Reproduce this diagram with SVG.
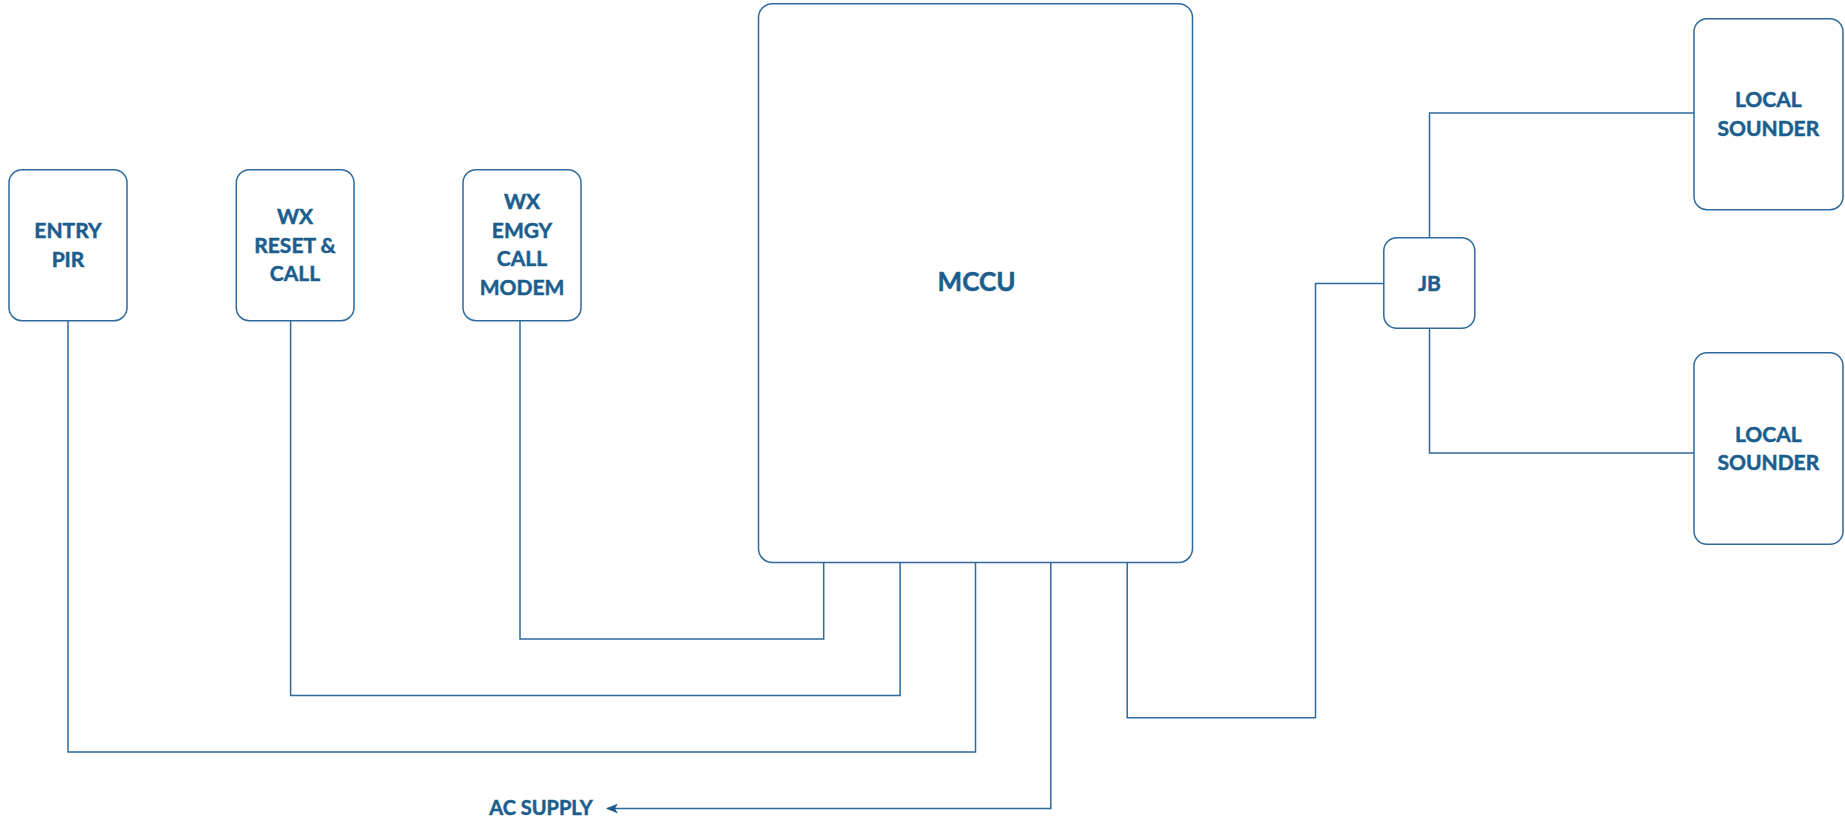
<svg xmlns="http://www.w3.org/2000/svg" width="1845" height="821" viewBox="0 0 1845 821">
<style>
.box{fill:#fff;stroke:#2E6A9C;stroke-width:1.5}
.t{font-family:Lato,"Open Sans","Liberation Sans",sans-serif;font-weight:700;font-size:21px;fill:#1B5E8E;stroke:#1B5E8E;stroke-width:0.5;text-anchor:middle}
.big{font-size:26px}
.ln{fill:none;stroke:#2E6A9C;stroke-width:1.5}
</style>
<defs>
<marker id="ah" markerWidth="12" markerHeight="10" refX="11" refY="5" orient="auto" markerUnits="userSpaceOnUse">
<path d="M0,0 L12,5 L0,10 L3,5 Z" fill="#1B5E8E"/>
</marker>
</defs>
<g id="connectors">
<polyline class="ln" points="68,320.7 68,752 975.5,752 975.5,562.5"/>
<polyline class="ln" points="290.6,320.7 290.6,695.4 900.1,695.4 900.1,562.5"/>
<polyline class="ln" points="520,320.7 520,639 823.7,639 823.7,562.5"/>
<polyline class="ln" points="1050.8,562.5 1050.8,808.5 607,808.5" marker-end="url(#ah)"/>
<polyline class="ln" points="1127.2,562.5 1127.2,717.8 1315.5,717.8 1315.5,283.5 1383.8,283.5"/>
<polyline class="ln" points="1429.5,237.7 1429.5,113 1694,113"/>
<polyline class="ln" points="1429.5,328.3 1429.5,453 1694,453"/>
</g>
<g id="entry-pir">
<rect class="box" x="9" y="169.7" width="118" height="151" rx="13"/>
<text class="t" x="68" y="238.3">ENTRY</text>
<text class="t" x="68" y="266.7">PIR</text>
</g>
<g id="wx-reset-call">
<rect class="box" x="236.3" y="169.7" width="117.7" height="151" rx="13"/>
<text class="t" x="295" y="224.3">WX</text>
<text class="t" x="295" y="252.7">RESET &amp;</text>
<text class="t" x="295" y="280.7">CALL</text>
</g>
<g id="wx-emgy-call-modem">
<rect class="box" x="463" y="169.7" width="118" height="151" rx="13"/>
<text class="t" x="522" y="209">WX</text>
<text class="t" x="522" y="237.5">EMGY</text>
<text class="t" x="522" y="266.2">CALL</text>
<text class="t" x="522" y="295">MODEM</text>
</g>
<g id="mccu">
<rect class="box" x="758.5" y="3.7" width="434" height="558.8" rx="14"/>
<text class="t big" x="976.5" y="290.7">MCCU</text>
</g>
<g id="jb">
<rect class="box" x="1383.8" y="237.7" width="91" height="90.6" rx="13"/>
<text class="t" x="1429.5" y="291">JB</text>
</g>
<g id="local-sounder-1">
<rect class="box" x="1694" y="18.7" width="149" height="191" rx="13"/>
<text class="t" x="1768.3" y="106.7">LOCAL</text>
<text class="t" x="1768.3" y="136">SOUNDER</text>
</g>
<g id="local-sounder-2">
<rect class="box" x="1694" y="352.7" width="149" height="191.6" rx="13"/>
<text class="t" x="1768.3" y="441.7">LOCAL</text>
<text class="t" x="1768.3" y="470">SOUNDER</text>
</g>
<g id="ac-supply">
<text class="t" x="541" y="814.7" style="font-size:20px">AC SUPPLY</text>
</g>
</svg>
